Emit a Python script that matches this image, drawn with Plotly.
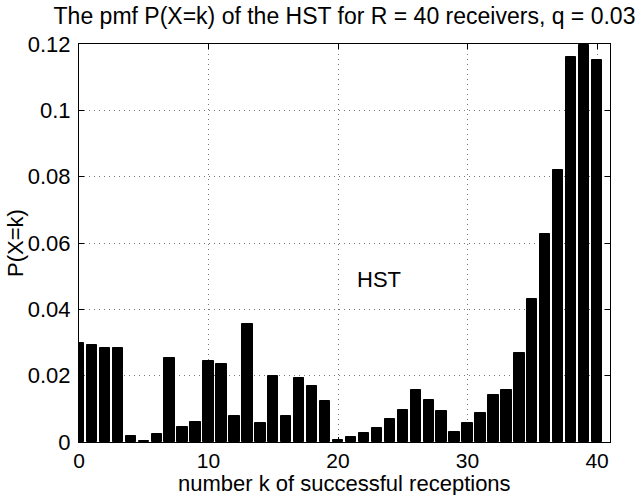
import plotly.graph_objects as go

k_values = list(range(0, 41))
pmf_values = [
    0.0300, 0.0292, 0.0283, 0.0283, 0.0017, 0.0004, 0.0024, 0.0252, 0.0045, 0.0059,
    0.0243, 0.0235, 0.0078, 0.0357, 0.0058, 0.0198, 0.0078, 0.0193, 0.0168, 0.0125,
    0.0007, 0.0014, 0.0028, 0.0042, 0.0068, 0.0096, 0.0158, 0.0128, 0.0093, 0.0030,
    0.0056, 0.0086, 0.0141, 0.0156, 0.0269, 0.0430, 0.0626, 0.0820, 0.1160, 0.1198,
    0.1152,
]
x_ticks = [0, 10, 20, 30, 40]
y_ticks = [0, 0.02, 0.04, 0.06, 0.08, 0.10, 0.12]
y_tick_labels = ["0", "0.02", "0.04", "0.06", "0.08", "0.1", "0.12"]

title_text = "The pmf P(X=k) of the HST for R = 40 receivers, q = 0.03"
x_label = "number k of successful receptions"
y_label = "P(X=k)"
inner_label = "HST"

FONT = "Liberation Sans, Arial, Helvetica, sans-serif"

fig = go.Figure()
fig.add_trace(go.Bar(
    x=k_values, y=pmf_values, width=0.8,
    marker=dict(color="black", line=dict(color="black", width=1)),
    showlegend=False,
))

axis_common = dict(
    showline=True, linecolor="black", linewidth=1, mirror="ticks",
    ticks="inside", ticklen=5, tickcolor="black", tickwidth=1,
    showgrid=True, gridcolor="#777777", griddash="1px,4px", gridwidth=1,
    zeroline=False,
)

fig.update_layout(
    width=639, height=495,
    margin=dict(l=79, r=29, t=44, b=53),
    paper_bgcolor="white", plot_bgcolor="white",
    font=dict(family=FONT, size=22, color="black"),
    bargap=0,
    title=dict(text=title_text, x=0.5, xref="paper", xanchor="center",
               y=1 - 16 / 495, yref="container", yanchor="middle",
               font=dict(family=FONT, size=23, color="black")),
    xaxis=dict(range=[0, 41], tickvals=x_ticks, ticklabelstandoff=0,
               tickfont=dict(family=FONT, size=21, color="black"), **axis_common),
    yaxis=dict(range=[0, 0.12], tickvals=y_ticks, ticktext=y_tick_labels,
               ticklabelstandoff=3,
               tickfont=dict(family=FONT, size=22, color="black"), **axis_common),
    annotations=[
        dict(text=inner_label, x=23.2, y=0.049, xref="x", yref="y",
             showarrow=False, xanchor="center", yanchor="middle",
             font=dict(family=FONT, size=22, color="black")),
        dict(text=x_label, x=0.5, y=-(484 - 442) / 398, xref="paper", yref="paper",
             showarrow=False, xanchor="center", yanchor="middle",
             font=dict(family=FONT, size=22, color="black")),
        dict(text=y_label, x=-(79 - 15) / 531, y=0.5, xref="paper", yref="paper",
             showarrow=False, xanchor="center", yanchor="middle", textangle=-90,
             font=dict(family=FONT, size=22, color="black")),
    ],
)

fig.write_html("out.html")
